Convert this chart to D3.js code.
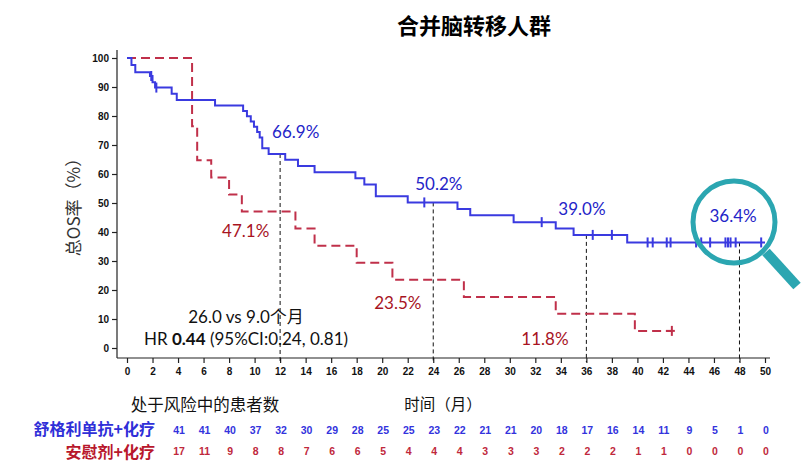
<!DOCTYPE html>
<html>
<head>
<meta charset="utf-8">
<script src="https://cdn.jsdelivr.net/npm/d3@7"></script>
<style>
  body { margin: 0; background: #fff; }
  svg { display: block; }
</style>
</head>
<body>
<div id="chart"></div>
<script>
// KM steps: [month, OS%] after each drop
var blueSteps = [[0, 100], [0.35, 97.6], [0.65, 95.1], [1.8, 93.8], [2.0, 91.6], [2.2, 89.8],
    [3.5, 87.7], [3.9, 85.5], [6.9, 83.6], [9.1, 81.7], [9.4, 79.9], [9.7, 78.1], [9.95, 76.3],
    [10.2, 74.5], [10.4, 72.6], [10.6, 68.9], [11.1, 66.9], [12.4, 64.9], [13.4, 62.8],
    [14.7, 60.6], [17.9, 58.5], [18.6, 56.4], [19.5, 52.3], [22.0, 50.2], [25.9, 47.9],
    [26.9, 45.8], [30.3, 43.4], [33.6, 41.2], [35.0, 39.0], [39.2, 36.4]]
var blueEnd = 50
var blueCensor = [1.9, 2.3, 23.3, 32.5, 36.5, 38.0, 40.8, 41.2, 42.3, 42.6, 44.6, 45.0,
    45.7, 46.9, 47.1, 47.3, 47.7, 49.7]

var redSteps = [[0, 100], [5.1, 76.5], [5.5, 64.7], [6.6, 58.8], [8.0, 52.9], [9.0, 47.1],
    [13.2, 41.2], [14.7, 35.3], [18.0, 29.4], [20.8, 23.5], [26.4, 17.6], [33.6, 11.8],
    [39.8, 5.9]]
var redEnd = 42.7
var redCensor = [42.7]

var xTicks = d3.range(0, 51, 2)
var yTicks = d3.range(0, 101, 10)

// landmark annotations
var landmarks = [12, 24, 36, 48]
var blueLabels = [[12, "66.9%"], [24, "50.2%"], [36, "39.0%"], [48, "36.4%"]]
var redLabels = [[12, "47.1%"], [24, "23.5%"], [36, "11.8%"]]

// number at risk
var riskBlue = [41, 41, 40, 37, 32, 30, 29, 28, 25, 25, 23, 22, 21, 21, 20, 18, 17, 16, 14, 11, 9, 5, 1, 0]
var riskRed = [17, 11, 9, 8, 8, 7, 6, 6, 5, 4, 4, 4, 3, 3, 3, 2, 2, 2, 1, 1, 0, 0, 0, 0]

var blueCol = "#3a3ae0", blueTxt = "#2424c8"
var redCol = "#c0304a", redTxt = "#a8141f"
var cjk = "'Noto Sans CJK SC', sans-serif"
var num = "Lato, 'Noto Sans', sans-serif"

var svg = d3.select("#chart").append("svg")
    .attr("width", 810).attr("height", 474)

var x = d3.scaleLinear().domain([0, 50]).range([127, 765])
var y = d3.scaleLinear().domain([0, 100]).range([348, 58])

// title
svg.append("text")
    .attr("x", 474).attr("y", 34)
    .attr("text-anchor", "middle")
    .style("font-family", cjk).style("font-weight", "bold").style("font-size", "22px")
    .text("合并脑转移人群")

// axes
var yAxis = svg.append("g")
    .attr("transform", "translate(117,0)")
    .call(d3.axisLeft(y).tickValues(yTicks).tickSize(5).tickPadding(3))
yAxis.select(".domain").attr("d", "M0,50V358")
var xAxis = svg.append("g")
    .attr("transform", "translate(0,358)")
    .call(d3.axisBottom(x).tickValues(xTicks).tickSize(5).tickPadding(5))
xAxis.select(".domain").attr("d", "M117,0H770")
svg.selectAll(".tick text")
    .style("font-family", "'Liberation Sans', Arial, sans-serif")
    .style("font-weight", "bold").style("font-size", "10px").attr("fill", "#111")
svg.selectAll(".domain, .tick line").attr("stroke", "#222").attr("stroke-width", 1.2)

// y label
svg.append("text")
    .attr("transform", "translate(80,203) rotate(-90)")
    .attr("text-anchor", "middle")
    .style("font-family", cjk).style("font-size", "17px").attr("fill", "#333")
    .text("总OS率（%）")

function stepValue(steps, t) {
    var v = steps[0][1]
    steps.forEach(function (d) { if (d[0] <= t) v = d[1] })
    return v
}

// landmark dashed lines
landmarks.forEach(function (t) {
    var s = stepValue(blueSteps, t)
    svg.append("line")
        .attr("x1", x(t)).attr("x2", x(t))
        .attr("y1", y(s)).attr("y2", 362)
        .attr("stroke", "#111").attr("stroke-width", 1)
        .attr("stroke-dasharray", "4,3")
})

var line = d3.line()
    .x(function (d) { return x(d[0]) })
    .y(function (d) { return y(d[1]) })
    .curve(d3.curveStepAfter)

function drawCurve(steps, end, censor, color, dash) {
    var pts = steps.concat([[end, steps[steps.length - 1][1]]])
    svg.append("path")
        .datum(pts)
        .attr("d", line)
        .attr("fill", "none")
        .attr("stroke", color).attr("stroke-width", 2)
        .attr("stroke-dasharray", dash)
    svg.append("g").selectAll("line")
        .data(censor)
        .enter().append("line")
        .attr("x1", function (d) { return x(d) })
        .attr("x2", function (d) { return x(d) })
        .attr("y1", function (d) { return y(stepValue(steps, d)) - 5 })
        .attr("y2", function (d) { return y(stepValue(steps, d)) + 5 })
        .attr("stroke", color).attr("stroke-width", 2)
}

drawCurve(redSteps, redEnd, redCensor, redCol, "9,5")
// short solid tail into the red censor mark
svg.append("line")
    .attr("x1", x(redCensor[0]) - 6).attr("x2", x(redCensor[0]) + 3)
    .attr("y1", y(stepValue(redSteps, redCensor[0]))).attr("y2", y(stepValue(redSteps, redCensor[0])))
    .attr("stroke", redCol).attr("stroke-width", 2)
drawCurve(blueSteps, blueEnd, blueCensor, blueCol, null)

// percent labels
var blueOff = { 12: [-8, -16], 24: [-18, -12], 36: [-28, -20], 48: [-30, -20] }
blueLabels.forEach(function (d) {
    svg.append("text")
        .attr("x", x(d[0]) + blueOff[d[0]][0]).attr("y", y(stepValue(blueSteps, d[0])) + blueOff[d[0]][1])
        .style("font-family", num).style("font-size", "17px").attr("fill", blueTxt)
        .text(d[1])
})
var redOff = { 12: [-58, 26], 24: [-59, 29], 36: [-65, 31] }
redLabels.forEach(function (d) {
    svg.append("text")
        .attr("x", x(d[0]) + redOff[d[0]][0]).attr("y", y(stepValue(redSteps, d[0])) + redOff[d[0]][1])
        .style("font-family", num).style("font-size", "17px").attr("fill", redTxt)
        .text(d[1])
})

// median / HR text
svg.append("text")
    .attr("x", 246).attr("y", 323)
    .attr("text-anchor", "middle")
    .style("font-family", num).style("font-size", "17px").attr("fill", "#111")
    .text("26.0 vs 9.0")
    .append("tspan").style("font-family", cjk).text("个月")
var hr = svg.append("text")
    .attr("x", 246).attr("y", 345)
    .attr("text-anchor", "middle")
    .style("font-family", num).style("font-size", "17px").attr("fill", "#111")
hr.append("tspan").text("HR ")
hr.append("tspan").style("font-weight", "bold").text("0.44")
hr.append("tspan").text(" (95%CI:0.24, 0.81)")

// magnifier
svg.append("circle")
    .attr("cx", 734).attr("cy", 222).attr("r", 41)
    .attr("fill", "none").attr("stroke", "#2ba6b1").attr("stroke-width", 5)
svg.append("line")
    .attr("x1", 766).attr("y1", 252).attr("x2", 797).attr("y2", 286)
    .attr("stroke", "#2ba6b1").attr("stroke-width", 10)

// risk table
svg.append("text")
    .attr("x", 205).attr("y", 411)
    .attr("text-anchor", "middle")
    .style("font-family", cjk).style("font-size", "16.5px").attr("fill", "#111")
    .text("处于风险中的患者数")
svg.append("text")
    .attr("x", 443).attr("y", 410)
    .attr("text-anchor", "middle")
    .style("font-family", cjk).style("font-size", "15.5px").attr("fill", "#111")
    .text("时间（月）")

svg.append("text")
    .attr("x", 155).attr("y", 435)
    .attr("text-anchor", "end")
    .style("font-family", cjk).style("font-weight", "bold").style("font-size", "16px").attr("fill", "#2f2fd8")
    .text("舒格利单抗+化疗")
svg.append("text")
    .attr("x", 155).attr("y", 458)
    .attr("text-anchor", "end")
    .style("font-family", cjk).style("font-weight", "bold").style("font-size", "16px").attr("fill", "#b8172c")
    .text("安慰剂+化疗")

var col = d3.scalePoint().domain(d3.range(riskBlue.length)).range([x(4) + 1, x(50) + 1])
svg.append("g").selectAll("text")
    .data(riskBlue).enter().append("text")
    .attr("x", function (d, i) { return col(i) })
    .attr("y", 434)
    .attr("text-anchor", "middle")
    .style("font-family", "'Liberation Sans', Arial, sans-serif").style("font-weight", "bold")
    .style("font-size", "10.5px").attr("fill", "#3333dd")
    .text(function (d) { return d })
svg.append("g").selectAll("text")
    .data(riskRed).enter().append("text")
    .attr("x", function (d, i) { return col(i) })
    .attr("y", 455)
    .attr("text-anchor", "middle")
    .style("font-family", "'Liberation Sans', Arial, sans-serif").style("font-weight", "bold")
    .style("font-size", "10.5px").attr("fill", "#c0283c")
    .text(function (d) { return d })
</script>
</body>
</html>
